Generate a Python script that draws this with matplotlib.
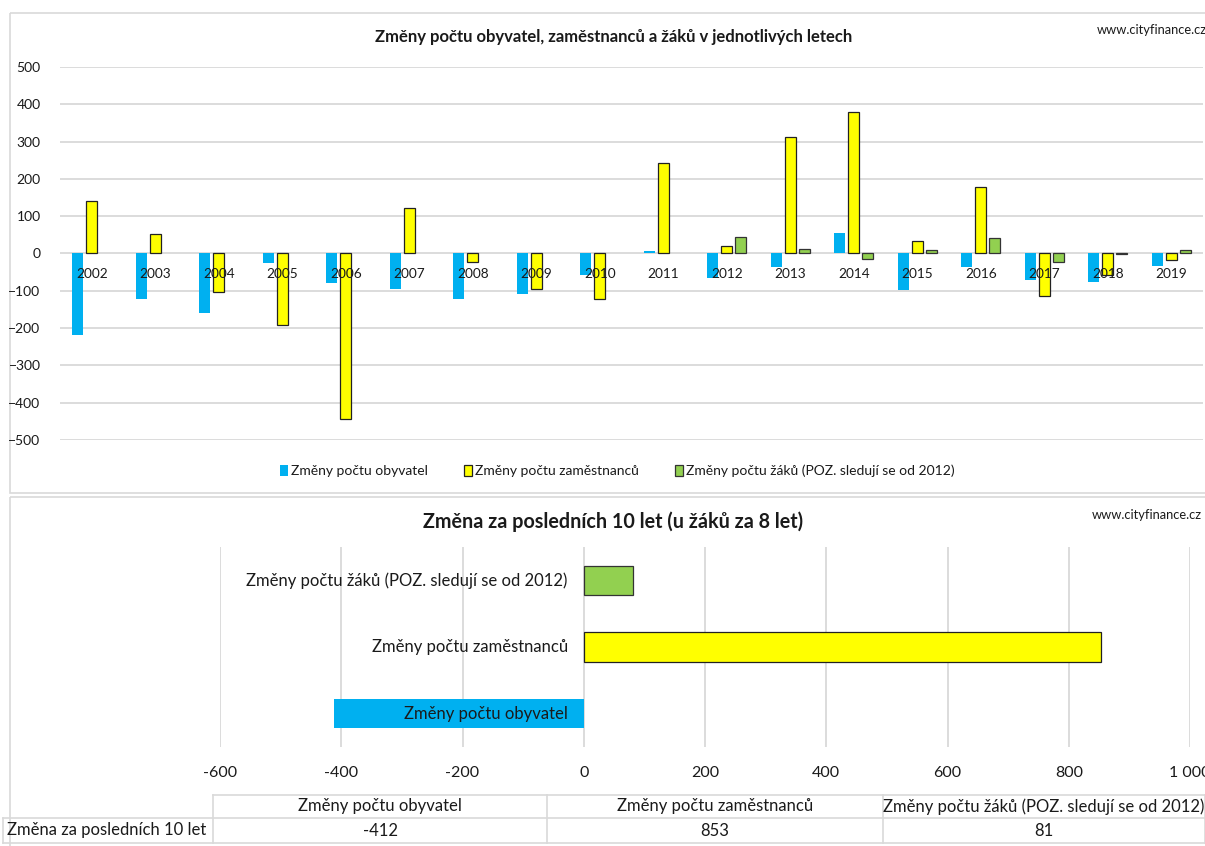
import matplotlib
matplotlib.use("Agg")
import matplotlib.pyplot as plt
import matplotlib.transforms as mtransforms
from matplotlib.patches import Patch, Rectangle
import numpy as np

# --- data -------------------------------------------------------------
years = [2002, 2003, 2004, 2005, 2006, 2007, 2008, 2009, 2010,
         2011, 2012, 2013, 2014, 2015, 2016, 2017, 2018, 2019]
obyvatel = [-218, -122, -160, -26, -80, -94, -122, -109, -58,
            8, -65, -35, 56, -99, -37, -72, -77, -33]
zamestnanci = [140, 52, -102, -193, -444, 123, -22, -94, -123,
               242, 19, 311, 379, 34, 179, -114, -57, -17]
# pupils tracked only since 2012
zaci = [np.nan] * 10 + [43, 13, -15, 10, 42, -22, -1, 10]

series_names = ["Změny počtu obyvatel", "Změny počtu zaměstnanců",
                "Změny počtu žáků (POZ. sledují se od 2012)"]
totals_10y = [-412, 853, 81]
table_row_label = "Změna za posledních 10 let"

title_top = "Změny počtu obyvatel, zaměstnanců a žáků v jednotlivých letech"
title_bottom = "Změna za posledních 10 let (u žáků za 8 let)"
source = "www.cityfinance.cz"

C_BLUE = "#00B0F0"
C_YELLOW = "#FFFF00"
C_GREEN = "#92D050"
C_GRID = "#D9D9D9"
C_TEXT = "#1a1a1a"

plt.rcParams["font.family"] = ["Lato", "DejaVu Sans"]

W, H = 1205, 846
fig = plt.figure(figsize=(W / 100, H / 100), dpi=100)


def px_axes(x0, y0, x1, y1, **kw):
    # axes from pixel box (top-left origin)
    return fig.add_axes([x0 / W, 1 - y1 / H, (x1 - x0) / W, (y1 - y0) / H], **kw)


# background overlay for panel frames and the data table
bg = fig.add_axes([0, 0, 1, 1], zorder=-5)
bg.set_xlim(0, W)
bg.set_ylim(H, 0)
bg.axis("off")
bg.add_patch(Rectangle((10, 13), W, 480, fill=False, ec=C_GRID, lw=1.2))
bg.add_patch(Rectangle((10, 497), W, 360, fill=False, ec=C_GRID, lw=1.2))

# --- top chart --------------------------------------------------------
ax = px_axes(60, 67, 1203, 440)
x = np.arange(len(years))
bw = 0.18
off = 0.22
ax.bar(x - off, obyvatel, bw, color=C_BLUE, zorder=2)
ax.bar(x, zamestnanci, bw, color=C_YELLOW, edgecolor="#222222", lw=0.9, zorder=2)
ax.bar(x + off, zaci, bw, color=C_GREEN, edgecolor="#333333", lw=0.9, zorder=2)

ax.set_xlim(-0.5, len(years) - 0.5)
ax.set_ylim(-500, 500)
ax.set_yticks(np.arange(-500, 501, 100))
ax.tick_params(axis="y", length=0, pad=14, labelsize=10, colors=C_TEXT)
ax.set_xticks([])
ax.grid(axis="y", color=C_GRID, lw=1.3, zorder=0)
ax.set_axisbelow(True)
for s in ax.spines.values():
    s.set_visible(False)

lab_tr = mtransforms.offset_copy(ax.transData, fig=fig, x=0, y=-21, units="dots")
for i, yr in enumerate(years):
    ax.text(i, 0, str(yr), transform=lab_tr, ha="center", va="center",
            fontsize=9.8, color=C_TEXT, zorder=5)

fig.text(614 / W, 1 - 37 / H, title_top, ha="center", va="center",
         fontsize=12, fontweight="bold", color=C_TEXT)
fig.text(1097 / W, 1 - 30 / H, source, ha="left", va="center",
         fontsize=9.3, color=C_TEXT)

handles = [Patch(facecolor=C_BLUE, edgecolor="none"),
           Patch(facecolor=C_YELLOW, edgecolor="#222222", lw=0.9),
           Patch(facecolor=C_GREEN, edgecolor="#333333", lw=0.9)]
fig.legend(handles, series_names, loc="center", bbox_to_anchor=(617 / W, 1 - 471 / H),
           ncol=3, frameon=False, fontsize=10, handlelength=0.6, handleheight=0.9,
           handletextpad=0.2, columnspacing=2.6, labelcolor=C_TEXT)

# --- bottom chart -----------------------------------------------------
ax2 = px_axes(220, 547, 1190, 747)
bar_colors = [C_BLUE, C_YELLOW, C_GREEN]
edges = ["none", "#222222", "#333333"]
pos = np.arange(len(totals_10y))
for p, v, c, e in zip(pos, totals_10y, bar_colors, edges):
    ax2.barh(p, v, 0.44, color=c, edgecolor=e, lw=0.9, zorder=2)
ax2.set_xlim(-600, 1000)
ax2.set_ylim(-0.5, len(totals_10y) - 0.5)
xt = np.arange(-600, 1001, 200)
ax2.set_xticks(xt)
ax2.set_xticklabels([f"{v:,}".replace(",", " ") for v in xt])
ax2.tick_params(axis="x", length=0, pad=14, labelsize=11.5, colors=C_TEXT)
ax2.set_yticks([])
ax2.grid(axis="x", color=C_GRID, lw=1.3, zorder=0)
ax2.set_axisbelow(True)
for s in ax2.spines.values():
    s.set_visible(False)

cat_tr = mtransforms.offset_copy(ax2.transData, fig=fig, x=-16, y=0, units="dots")
for p, name in zip(pos, series_names):
    ax2.text(0, p, name, transform=cat_tr, ha="right", va="center",
             fontsize=12, color=C_TEXT, zorder=5)

fig.text(613 / W, 1 - 522 / H, title_bottom, ha="center", va="center",
         fontsize=14.2, fontweight="bold", color=C_TEXT)
fig.text(1092 / W, 1 - 515 / H, source, ha="left", va="center",
         fontsize=9.3, color=C_TEXT)

# --- data table under bottom chart ------------------------------------
col_x = [213, 547, 883, 1205]
row_y = [795, 818, 843]
tl = dict(color=C_GRID, lw=1.2)
bg.plot([213, W], [row_y[0]] * 2, **tl)
bg.plot([3, W], [row_y[1]] * 2, **tl)
bg.plot([3, W], [row_y[2]] * 2, **tl)
bg.plot([3, 3], [row_y[1], row_y[2]], **tl)
for cx in col_x:
    bg.plot([cx, cx], [row_y[0], row_y[2]], **tl)
for j, (name, val) in enumerate(zip(series_names, totals_10y)):
    cx = (col_x[j] + col_x[j + 1]) / 2
    bg.text(cx, (row_y[0] + row_y[1]) / 2, name, ha="center", va="center",
            fontsize=12, color=C_TEXT)
    bg.text(cx, (row_y[1] + row_y[2]) / 2, str(val), ha="center", va="center",
            fontsize=12, color=C_TEXT)
bg.text(7, (row_y[1] + row_y[2]) / 2, table_row_label, ha="left", va="center",
        fontsize=12, color=C_TEXT)

fig.savefig("out.png", dpi=100)
